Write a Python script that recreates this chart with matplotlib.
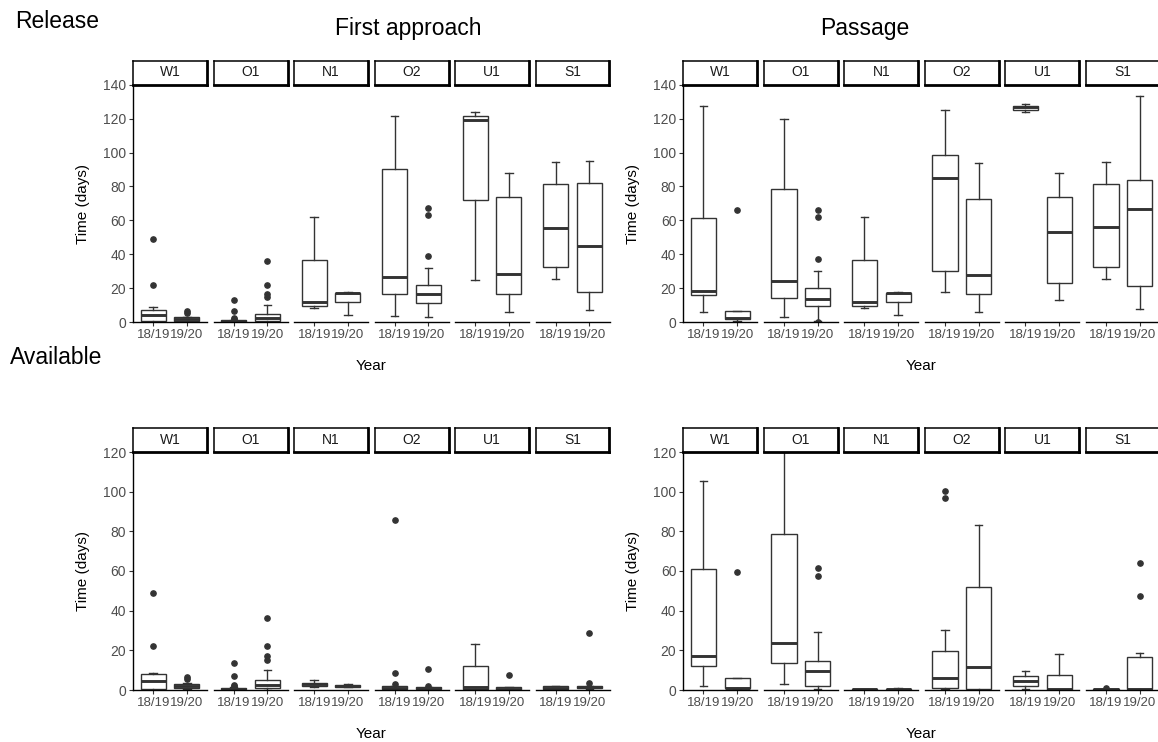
import matplotlib
matplotlib.use("Agg")
import matplotlib.pyplot as plt

plt.rcParams['font.family'] = ['Liberation Sans', 'DejaVu Sans']

FACETS = ["W1", "O1", "N1", "O2", "U1", "S1"]
YEARS = ["18/19", "19/20"]

# ---- Release: First approach (order: W1 18/19, W1 19/20, O1 18/19, ... S1 19/20)
FA_LO  = [0.0, 0.5, 0.0, 0.0, 8.3, 4.2, 3.7, 3.0, 24.8, 6.3, 25.8, 7.3]
FA_Q1  = [0.6, 1.0, 0.4, 1.0, 9.7, 11.9, 16.9, 11.2, 72.2, 16.7, 32.4, 18.1]
FA_MED = [4.4, 2.2, 0.8, 2.6, 11.9, 17.2, 26.7, 16.5, 119.3, 28.7, 55.8, 45.0]
FA_Q3  = [7.3, 3.0, 1.2, 4.8, 36.6, 17.6, 90.4, 22.0, 121.3, 73.7, 81.4, 82.0]
FA_HI  = [8.9, 3.5, 1.5, 10.3, 62.0, 18.0, 121.3, 31.9, 123.9, 87.9, 94.4, 94.8]
FA_OUT = [[22, 49], [5.3, 6.5], [1.8, 2.5, 7, 13.5], [15, 17, 22, 36],
          [], [], [], [39.3, 63.5, 67.4], [], [], [], []]

# ---- Release: Passage
PA_LO  = [5.9, 0.8, 3.0, 1.0, 8.3, 4.2, 18.1, 5.9, 124.1, 13.2, 25.8, 7.9]
PA_Q1  = [16.1, 2.0, 14.4, 9.8, 9.7, 11.9, 30.5, 16.5, 125.0, 23.0, 32.4, 21.6]
PA_MED = [18.7, 2.4, 24.4, 13.6, 11.9, 17.2, 84.9, 27.7, 126.8, 53.1, 56.2, 67.0]
PA_Q3  = [61.3, 6.9, 78.6, 20.4, 36.6, 17.6, 98.7, 72.7, 127.6, 73.7, 81.4, 84.0]
PA_HI  = [127.2, 6.9, 119.7, 30.5, 62.0, 18.0, 125.0, 93.8, 128.8, 87.9, 94.4, 133.1]
PA_OUT = [[], [66.3], [], [0.3, 37.2, 62, 66.3],
          [], [], [], [], [], [], [], []]

# ---- Available: First approach
AF_LO  = [0.0, 0.5, 0.0, 0.0, 1.5, 1.5, 0.3, 0.2, 0.0, 0.0, 0.5, 0.5]
AF_Q1  = [0.3, 1.0, 0.3, 1.0, 1.8, 1.6, 0.5, 0.4, 0.3, 0.2, 0.6, 0.8]
AF_MED = [4.5, 2.0, 0.7, 2.5, 2.9, 2.1, 1.2, 1.0, 1.3, 0.6, 1.2, 1.5]
AF_Q3  = [8.0, 3.0, 1.0, 5.0, 3.7, 2.6, 1.9, 1.5, 12.2, 1.3, 1.8, 2.0]
AF_HI  = [8.4, 3.5, 1.3, 10.2, 5.0, 3.0, 2.2, 1.6, 23.2, 1.3, 2.2, 2.2]
AF_OUT = [[22, 49], [5.3, 6.5], [1.8, 2.5, 7.2, 13.5], [15, 17, 22, 36.5],
          [], [], [3.2, 8.8, 85.5], [2.0, 10.5], [], [7.8], [], [3.3, 28.5]]

# ---- Available: Passage
AP_LO  = [2.0, 0.3, 2.9, 0.5, 0.1, 0.1, 0.3, 0.0, 0.5, 0.0, 0.1, 0.2]
AP_Q1  = [12.1, 0.8, 13.8, 2.0, 0.2, 0.2, 0.8, 0.5, 1.8, 0.2, 0.2, 0.3]
AP_MED = [17.1, 1.2, 23.8, 9.6, 0.3, 0.3, 5.9, 11.7, 4.7, 0.6, 0.3, 0.6]
AP_Q3  = [60.9, 5.9, 78.5, 14.8, 0.4, 0.5, 19.8, 52.0, 7.0, 7.7, 0.4, 16.8]
AP_HI  = [105.2, 5.9, 119.8, 29.0, 0.5, 0.8, 30.5, 83.0, 9.4, 18.3, 0.5, 18.7]
AP_OUT = [[], [59.6], [], [57.5, 61.3], [], [], [97, 100.2], [], [], [], [0.9], [47.5, 63.8]]

W, H = 1158, 742
fig = plt.figure(figsize=(W / 100, H / 100), dpi=100)
fig.patch.set_facecolor("white")

LINE = "#333333"
TXT = "#4d4d4d"


def px_axes(x0, ytop, w, h):
    return fig.add_axes([x0 / W, 1 - (ytop + h) / H, w / W, h / H])


def panel(x0, ytop, h, ymax, yticks, lo, q1, med, q3, hi, out):
    step, fw = 80.5, 74
    for i, fac in enumerate(FACETS):
        fx = x0 + i * step
        ax = px_axes(fx, ytop, fw, h)
        stats = []
        for j in range(2):
            k = 2 * i + j
            stats.append(dict(med=med[k], q1=q1[k], q3=q3[k], whislo=lo[k],
                              whishi=hi[k], fliers=out[k], label=YEARS[j]))
        ax.bxp(stats, positions=[1, 2], widths=0.75, capwidths=0.22,
               patch_artist=True, showfliers=True,
               boxprops=dict(facecolor="white", edgecolor=LINE, linewidth=1.0),
               whiskerprops=dict(color=LINE, linewidth=1.0),
               capprops=dict(color=LINE, linewidth=1.0),
               medianprops=dict(color=LINE, linewidth=2.1),
               flierprops=dict(marker="o", markerfacecolor="#333333",
                               markeredgecolor="#333333", markersize=3.8))
        ax.set_xlim(0.4, 2.6)
        ax.set_ylim(0, ymax)
        ax.spines["top"].set_visible(False)
        ax.spines["right"].set_visible(False)
        ax.spines["bottom"].set_linewidth(1.0)
        ax.spines["left"].set_linewidth(1.0)
        ax.tick_params(axis="x", colors=LINE, length=3, width=0.8,
                       labelsize=9.5, labelcolor=TXT, pad=2)
        ax.set_xticks([1, 2])
        ax.set_xticklabels(YEARS)
        if i == 0:
            ax.set_yticks(yticks)
            ax.tick_params(axis="y", colors=LINE, length=3, width=0.8,
                           labelsize=10, labelcolor=TXT, pad=2)
        else:
            ax.spines["left"].set_visible(False)
            ax.set_yticks([])
        # strip
        sx = px_axes(fx, ytop - 24, fw, 24)
        sx.set_xticks([]); sx.set_yticks([])
        for name, s in sx.spines.items():
            s.set_color("black")
            s.set_linewidth(2.0 if name in ("right", "bottom") else 1.1)
        sx.text(0.5, 0.5, fac, ha="center", va="center", fontsize=10,
                color="#1a1a1a", transform=sx.transAxes)


# top row
panel(133, 84.5, 238, 140, [0, 20, 40, 60, 80, 100, 120, 140],
      FA_LO, FA_Q1, FA_MED, FA_Q3, FA_HI, FA_OUT)
panel(683.3, 84.5, 238, 140, [0, 20, 40, 60, 80, 100, 120, 140],
      PA_LO, PA_Q1, PA_MED, PA_Q3, PA_HI, PA_OUT)
# bottom row
panel(133, 452, 238, 120, [0, 20, 40, 60, 80, 100, 120],
      AF_LO, AF_Q1, AF_MED, AF_Q3, AF_HI, AF_OUT)
panel(683.3, 452, 238, 120, [0, 20, 40, 60, 80, 100, 120],
      AP_LO, AP_Q1, AP_MED, AP_Q3, AP_HI, AP_OUT)


def ftext(x, y, s, **kw):
    fig.text(x / W, 1 - y / H, s, **kw)


for xc, yc in [(83, 204), (633, 204), (83, 571), (633, 571)]:
    ftext(xc, yc, "Time (days)", rotation=90, ha="center", va="center",
          fontsize=11, color="black")
for xc, yc in [(371, 366), (921, 366), (371, 734), (921, 734)]:
    ftext(xc, yc, "Year", ha="center", va="center", fontsize=11, color="black")

ftext(15, 22, "Release", ha="left", va="center", fontsize=16.5, color="black")
ftext(10, 357, "Available", ha="left", va="center", fontsize=16.5, color="black")
ftext(408, 29, "First approach", ha="center", va="center", fontsize=16.5, color="black")
ftext(865, 29, "Passage", ha="center", va="center", fontsize=16.5, color="black")

fig.savefig("out.png", dpi=100, facecolor="white")
